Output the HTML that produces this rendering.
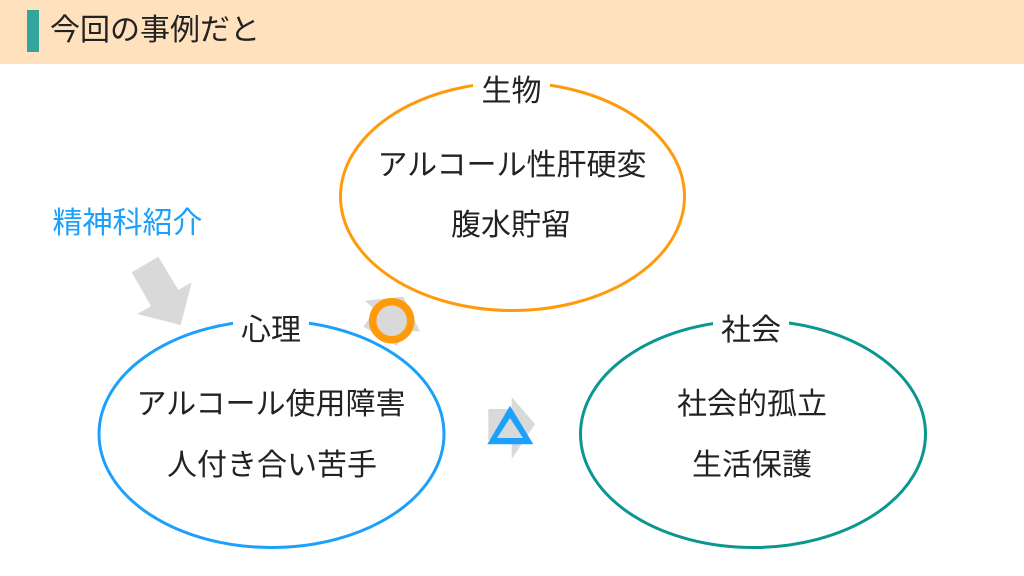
<!DOCTYPE html>
<html lang="ja"><head><meta charset="utf-8">
<style>
html,body{margin:0;padding:0;background:#fff}
body{width:1024px;height:576px;overflow:hidden;position:relative}
svg{position:absolute;left:0;top:0;display:block}
text{font-family:"Liberation Sans","Noto Sans CJK JP",sans-serif;fill:#222;font-size:30px;text-anchor:middle}
</style></head><body>
<svg width="1024" height="576" viewBox="0 0 1024 576" xmlns="http://www.w3.org/2000/svg">
<rect x="0" y="0" width="1024" height="64" fill="#ffe2bd"/>
<rect x="27" y="10" width="12" height="42" fill="#33a59c"/>
<text x="50" y="40" style="text-anchor:start">今回の事例だと</text>

<ellipse cx="512.5" cy="196.5" rx="172" ry="114" fill="none" stroke="#ff9a0a" stroke-width="3"/>
<ellipse cx="271.5" cy="434" rx="172.5" ry="113.5" fill="none" stroke="#1ba1fb" stroke-width="3"/>
<ellipse cx="753" cy="434" rx="172.5" ry="113.5" fill="none" stroke="#0b9690" stroke-width="3"/>

<rect x="473" y="72" width="77" height="34" fill="#fff"/>
<rect x="233" y="310" width="76" height="34" fill="#fff"/>
<rect x="713" y="310" width="76" height="34" fill="#fff"/>

<text x="511.5" y="101">生物</text>
<text x="271" y="340">心理</text>
<text x="751" y="340">社会</text>

<text x="512" y="175">アルコール性肝硬変</text>
<text x="511" y="235">腹水貯留</text>
<text x="271" y="414">アルコール使用障害</text>
<text x="272" y="475">人付き合い苦手</text>
<text x="752" y="414">社会的孤立</text>
<text x="752" y="475">生活保護</text>
<text x="127.500" y="233" style="fill:#1ba1fb">精神科紹介</text>

<polygon points="131.700,272.300 158.300,256.700 178.300,290 191.700,282.300 180.700,325 137.300,314 151,306" fill="#d9d9d9"/>
<polygon points="365,300.700 403.300,296.700 420,331.500 405,331 397,346 363.300,326.700 375,310" fill="#d9d9d9"/>
<circle cx="391.700" cy="320.700" r="19" fill="#d9d9d9" stroke="#ff9a0a" stroke-width="7.500"/>
<polygon points="488.300,409 511.700,409 511.700,397 535,424 511.700,459 511.700,440 488.300,440" fill="#d9d9d9"/>
<path d="M510,405.700 L533.300,444.300 L487.300,444.300 Z M510,418 L497,438 L523,438 Z" fill="#1ba1fb" fill-rule="evenodd"/>
</svg>
</body></html>
